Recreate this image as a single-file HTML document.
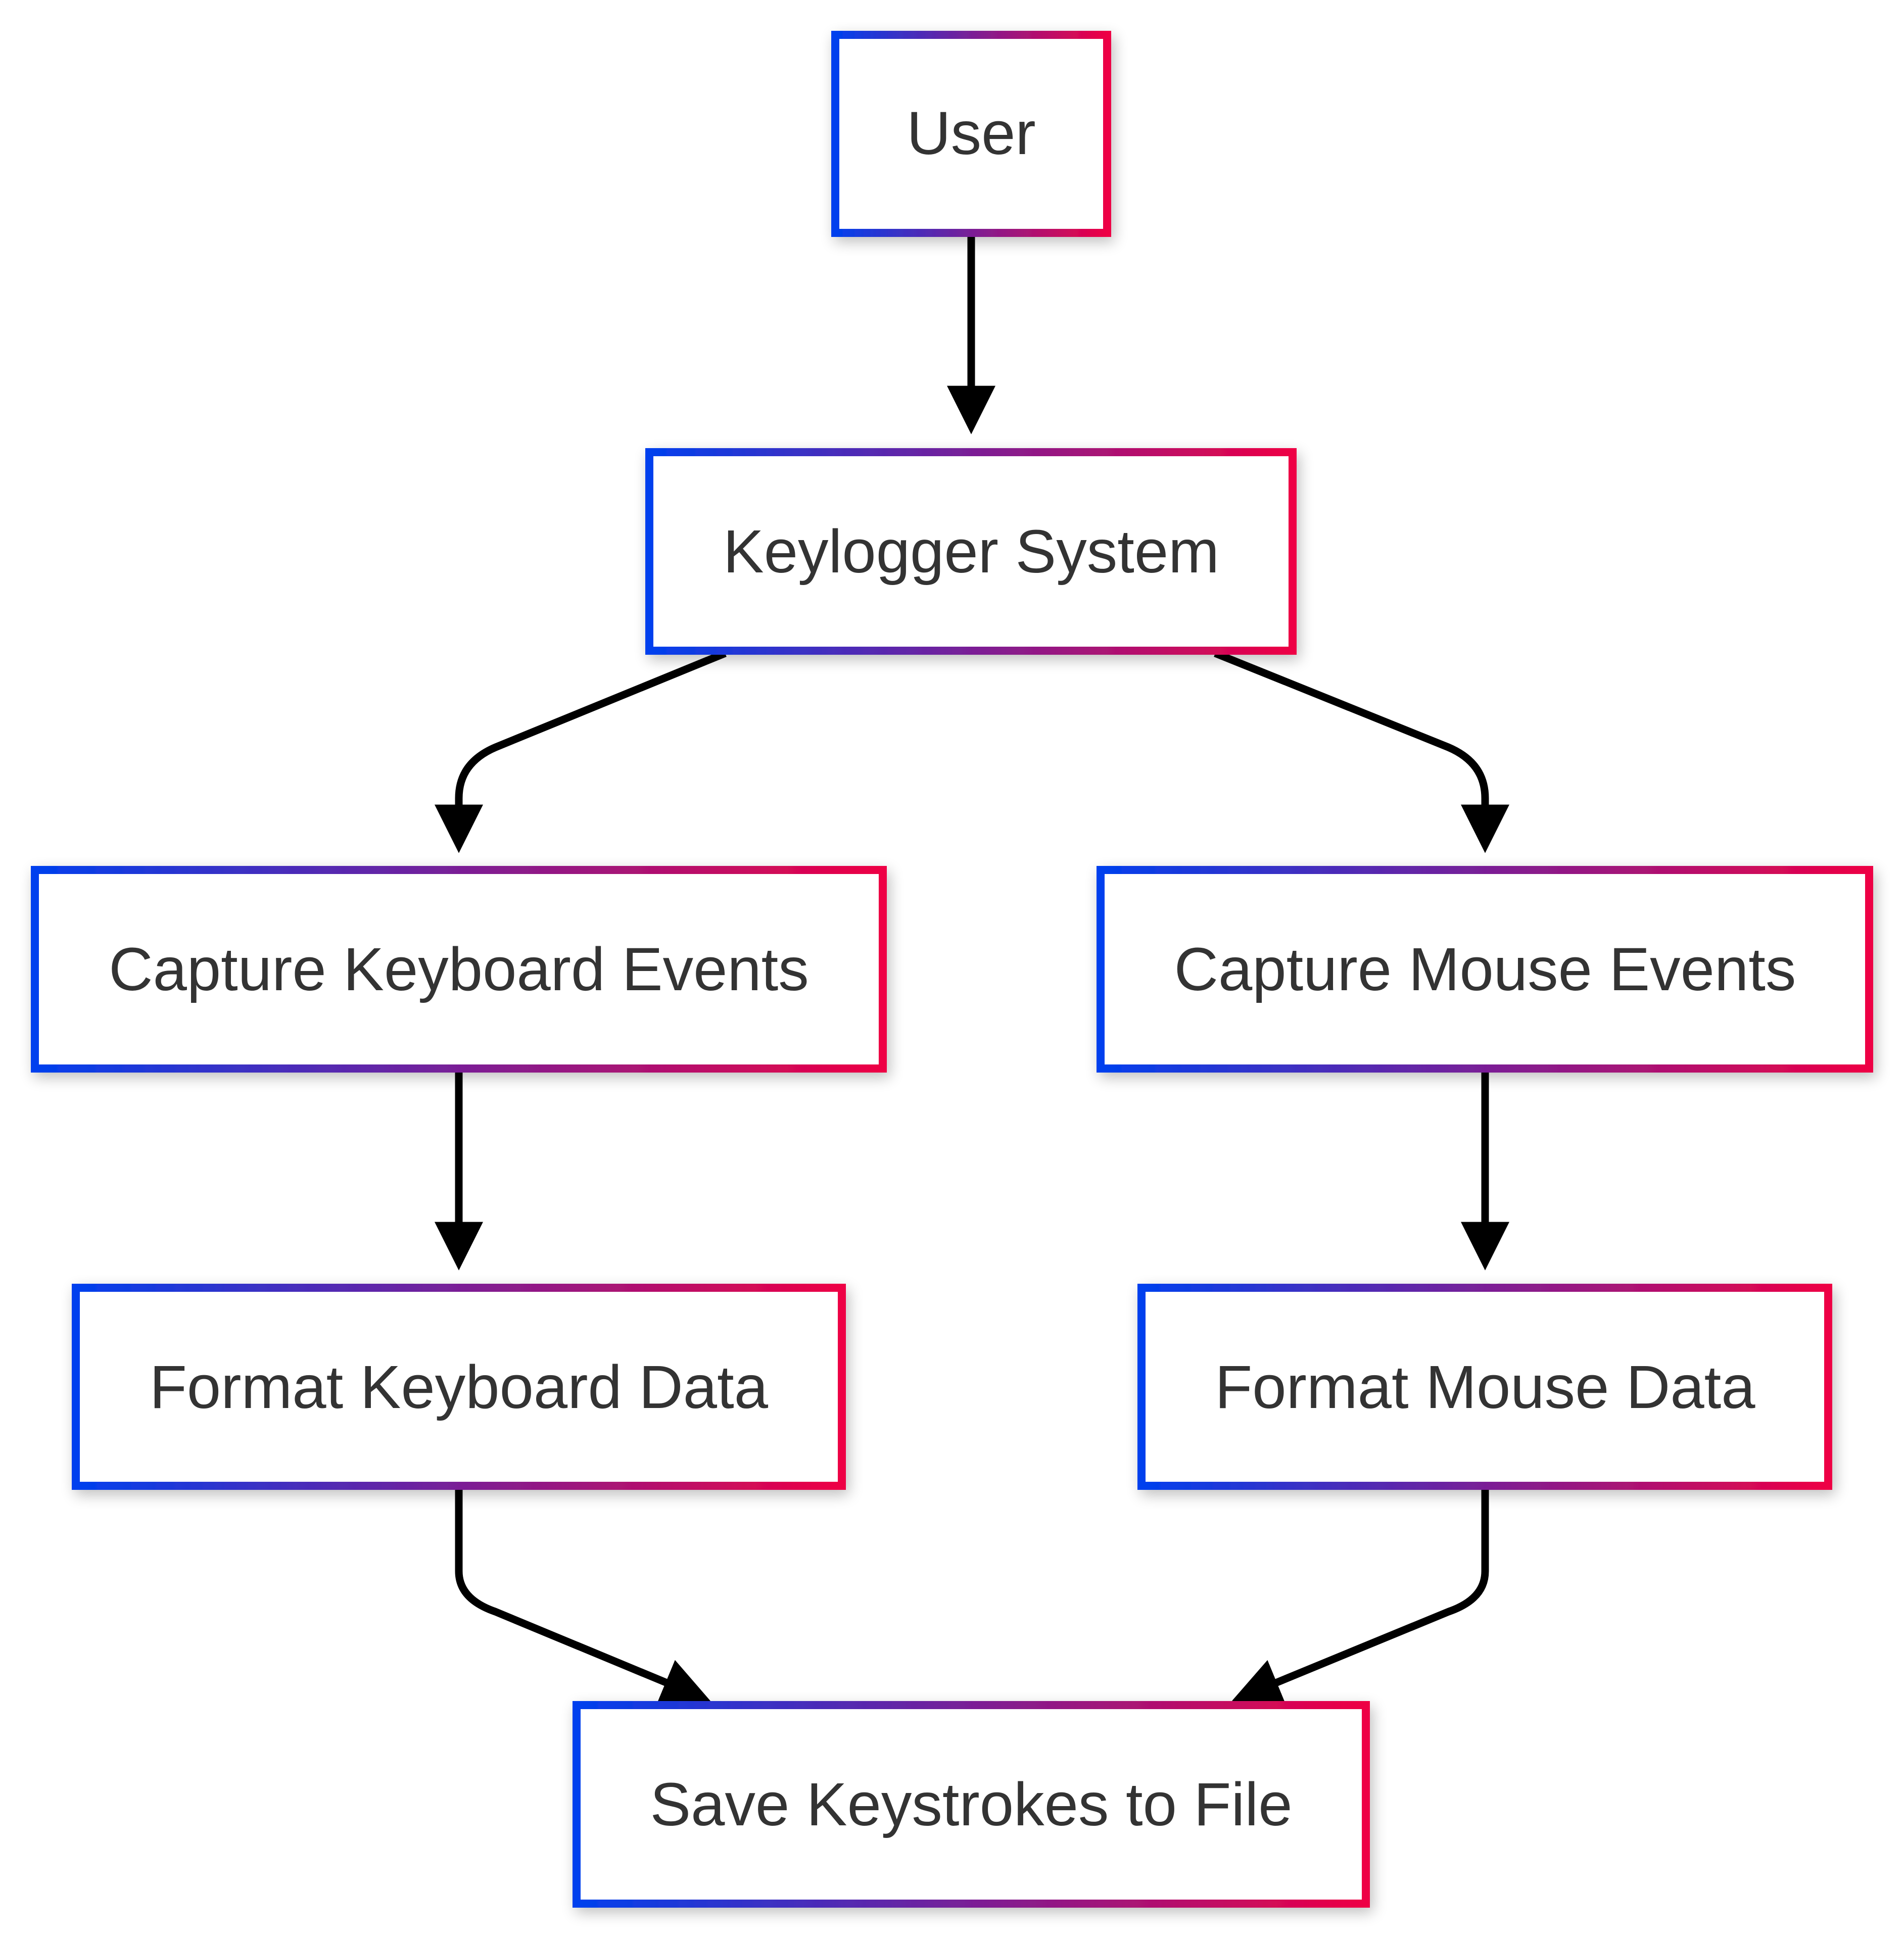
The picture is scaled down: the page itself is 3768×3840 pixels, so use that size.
<!DOCTYPE html>
<html><head><meta charset="utf-8"><style>
html,body{margin:0;padding:0;background:#fff;}
svg{display:block;}
text{font-family:"Liberation Sans",Arial,sans-serif;font-size:121px;fill:#333;}
</style></head><body>
<svg width="3768" height="3840" viewBox="0 0 3768 3840" xmlns="http://www.w3.org/2000/svg">
<defs>
<linearGradient id="g" x1="0" y1="0" x2="1" y2="0">
<stop offset="0" stop-color="#0040ee"/><stop offset="0.5" stop-color="#7a1f96"/><stop offset="1" stop-color="#ee0044"/>
</linearGradient>
<filter id="sh" x="-10%" y="-20%" width="120%" height="140%">
<feGaussianBlur in="SourceAlpha" stdDeviation="14"/>
<feOffset dx="6" dy="10"/>
<feComponentTransfer><feFuncA type="linear" slope="0.25"/></feComponentTransfer>
<feMerge><feMergeNode/><feMergeNode in="SourceGraphic"/></feMerge>
</filter>
<marker id="a" markerUnits="userSpaceOnUse" markerWidth="96" markerHeight="120" viewBox="0 0 10 10" refX="6.5" refY="5" orient="auto">
<path d="M0,0 L10,5 L0,10 z" fill="#000"/>
</marker>
</defs>
<g fill="none" stroke="#000" stroke-width="15" marker-end="url(#a)">
<path d="M1922 461 L1922 826"/>
<path d="M1435 1293 L981 1479 Q908 1510 908 1580 L908 1655"/>
<path d="M2405 1293 L2866 1479 Q2939 1510 2939 1580 L2939 1655"/>
<path d="M908 2115 L908 2481"/>
<path d="M2939 2115 L2939 2481"/>
<path d="M908 2941 L908 3110 Q908 3165 980 3190 L1375 3354"/>
<path d="M2939 2941 L2939 3110 Q2939 3165 2867 3190 L2469 3354"/>
</g>
<g filter="url(#sh)" fill="#fff" stroke="url(#g)" stroke-width="16">
<rect x="1653" y="69" width="538" height="392"/>
<rect x="1285" y="895" width="1273" height="393"/>
<rect x="69" y="1722" width="1678" height="393"/>
<rect x="2178" y="1722" width="1521" height="393"/>
<rect x="150" y="2549" width="1516" height="392"/>
<rect x="2259" y="2549" width="1359" height="392"/>
<rect x="1141" y="3375" width="1562" height="393"/>
</g>
<g text-anchor="middle">
<text x="1922" y="305">User</text>
<text x="1922" y="1133">Keylogger System</text>
<text x="908" y="1960">Capture Keyboard Events</text>
<text x="2939" y="1960">Capture Mouse Events</text>
<text x="908" y="2787">Format Keyboard Data</text>
<text x="2939" y="2787">Format Mouse Data</text>
<text x="1922" y="3613">Save Keystrokes to File</text>
</g>
</svg>
</body></html>
